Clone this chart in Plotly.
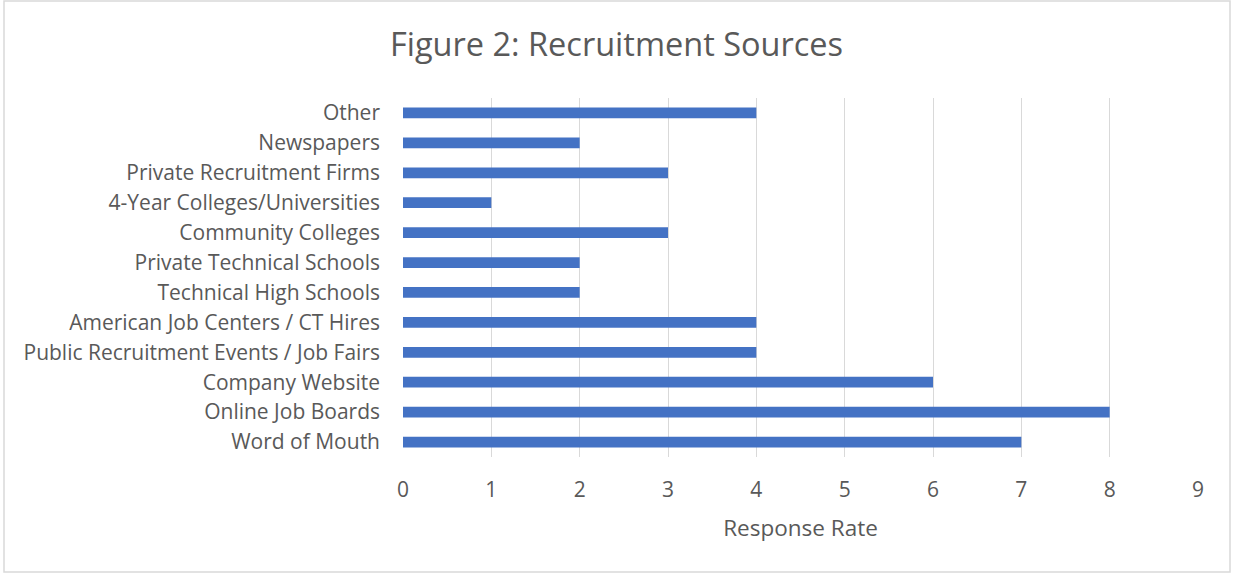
import plotly.graph_objects as go

categories = [
    "Word of Mouth",
    "Online Job Boards",
    "Company Website",
    "Public Recruitment Events / Job Fairs",
    "American Job Centers / CT Hires",
    "Technical High Schools",
    "Private Technical Schools",
    "Community Colleges",
    "4-Year Colleges/Universities",
    "Private Recruitment Firms",
    "Newspapers",
    "Other",
]
values = [7, 8, 6, 4, 4, 2, 2, 3, 1, 3, 2, 4]
x_ticks = [0, 1, 2, 3, 4, 5, 6, 7, 8, 9]

W, H = 1233, 575
L, R, T, B = 403, 35, 98, 118
pw, ph = W - L - R, H - T - B

FONT = "Open Sans, sans-serif"
TXT = "#595959"

fig = go.Figure(
    go.Bar(
        x=values,
        y=categories,
        orientation="h",
        marker=dict(color="#4472C4", line=dict(width=0)),
        width=0.36,
    )
)

fig.update_layout(
    width=W,
    height=H,
    margin=dict(l=L, r=R, t=T, b=B),
    paper_bgcolor="white",
    plot_bgcolor="white",
    showlegend=False,
    font=dict(family=FONT, color=TXT, size=21),
    title=dict(
        text="Figure 2: Recruitment Sources",
        x=0.5,
        xanchor="center",
        y=1 - 45 / H,
        yanchor="middle",
        font=dict(size=32.5, color=TXT, family=FONT),
    ),
    xaxis=dict(
        range=[0, 9],
        tickvals=x_ticks,
        showgrid=True,
        gridcolor="#d9d9d9",
        gridwidth=1,
        zeroline=False,
        showline=False,
        ticks="",
        ticklabelstandoff=18,
        tickfont=dict(size=21, color=TXT),
        title=dict(text="Response Rate", font=dict(size=22.5, color=TXT), standoff=18),
    ),
    yaxis=dict(
        categoryorder="array",
        categoryarray=categories,
        range=[-0.5, len(categories) - 0.5],
        showgrid=False,
        zeroline=False,
        showline=False,
        ticks="",
        ticklabelstandoff=22,
        tickfont=dict(size=21, color=TXT),
    ),
    shapes=[
        dict(
            type="rect",
            xref="paper",
            yref="paper",
            x0=(4 - L) / pw,
            x1=(W - 3 - L) / pw,
            y0=(H - B - (H - 3)) / ph,
            y1=(H - B - 1) / ph,
            line=dict(color="#d9d9d9", width=1.5),
            fillcolor="rgba(0,0,0,0)",
            layer="below",
        )
    ],
)

fig.write_html("out.html")
